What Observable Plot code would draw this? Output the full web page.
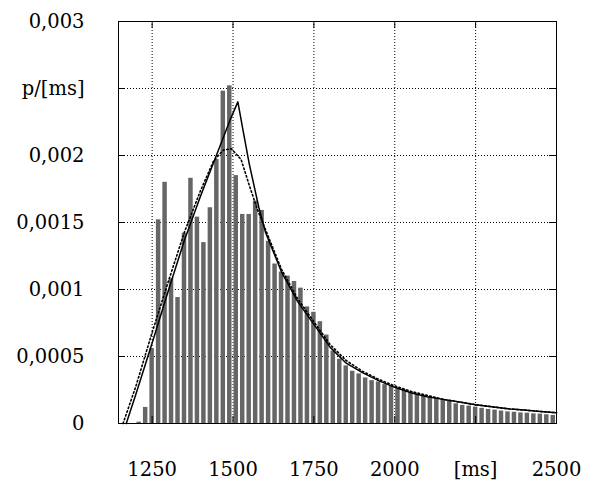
<!DOCTYPE html>
<html><head><meta charset="utf-8">
<script src="https://cdn.jsdelivr.net/npm/d3@7"></script>
<script src="https://cdn.jsdelivr.net/npm/@observablehq/plot@0.6"></script>
<style>
body{margin:0;background:#fff}
svg text, svg tspan { font-family: "DejaVu Serif", serif !important; }
</style>
</head><body><div id="chart"></div>
<script>
const binWidth = 20;
const binCenters = [1210,1230,1250,1270,1290,1310,1330,1350,1370,1390,1410,1430,1450,1470,1490,1510,1530,1550,1570,1590,1610,1630,1650,1670,1690,1710,1730,1750,1770,1790,1810,1830,1850,1870,1890,1910,1930,1950,1970,1990,2010,2030,2050,2070,2090,2110,2130,2150,2170,2190,2210,2230,2250,2270,2290,2310,2330,2350,2370,2390,2410,2430,2450,2470,2490];
const binValues = [0.00001,0.00012,0.00056,0.00152,0.00180,0.00108,0.00094,0.00142,0.00183,0.00154,0.00135,0.00161,0.00197,0.00248,0.00252,0.00185,0.00156,0.00156,0.00166,0.00159,0.00136,0.00119,0.00113,0.00110,0.00106,0.00101,0.00087,0.00083,0.00076,0.00066,0.00054,0.00048,0.00043,0.00039,0.00037,0.00034,0.00032,0.00031,0.00029,0.00028,0.00026,0.00025,0.00023,0.00022,0.00021,0.00020,0.00019,0.00018,0.000168,0.000147,0.000135,0.00013,0.000122,0.000113,0.000105,0.0001,0.000093,0.000087,0.000084,0.000079,0.000077,0.000072,0.00007,0.000065,0.00006];

const solidX = [1170,1200,1250,1300,1350,1400,1450,1490,1515,1530,1550,1580,1600,1650,1700,1750,1800,1850,1900,1950,2000,2050,2100,2150,2200,2250,2300,2350,2400,2450,2500];
const solidY = [0,0.00022,0.0006,0.00099,0.00137,0.0017,0.00201,0.00226,0.0024,0.0022,0.00194,0.00161,0.00143,0.00113,0.00091,0.00074,0.00057,0.00045,0.00038,0.00032,0.00027,0.00023,0.0002,0.00018,0.00016,0.00014,0.000125,0.00011,0.0001,0.00009,0.00008];

const dottedX = [1160,1200,1250,1300,1350,1400,1440,1470,1495,1525,1550,1575,1600,1650,1700,1750,1800,1850,1900,1950,2000,2050,2100,2150,2200,2250,2300,2350,2400,2450,2500];
const dottedY = [0,0.00028,0.00068,0.00106,0.00143,0.00174,0.00196,0.00204,0.00205,0.00197,0.00178,0.0016,0.00145,0.00115,0.00093,0.00076,0.00059,0.00047,0.00039,0.00033,0.00028,0.00024,0.00021,0.00018,0.00016,0.00014,0.000125,0.00011,0.0001,0.00009,0.00008];

const xTickValues = [1250,1500,1750,2000,2250,2500];
const xTickLabels = ["1250","1500","1750","2000","[ms]","2500"];
const yTickValues = [0,0.0005,0.001,0.0015,0.002,0.0025,0.003];
const yTickLabels = ["0","0,0005","0,001","0,0015","0,002","p/[ms]","0,003"];
const xGrid = [1250,1500,1750,2000,2250];
const yGrid = [0.0005,0.001,0.0015,0.002,0.0025];
const xDomain = [1146,2500];
const yDomain = [0,0.003];

const W = 589, H = 489, mL = 118, mR = 33, mT = 21, mB = 66;
const fw = W - mL - mR, fh = H - mT - mB, tickLen = 7;

const bars = binCenters.map((c, i) => ({x1: c - binWidth / 2, x2: c + binWidth / 2, y: binValues[i]}));
const solid = solidX.map((x, i) => ({x, y: solidY[i]}));
const dotted = dottedX.map((x, i) => ({x, y: dottedY[i]}));
const xLab = new Map(xTickValues.map((v, i) => [v, xTickLabels[i]]));
const yLab = new Map(yTickValues.map((v, i) => [v, yTickLabels[i]]));

const font = "DejaVu Serif, serif";
const fs = 19.5;
const chart = Plot.plot({
  width: W, height: H,
  marginLeft: mL, marginRight: mR, marginTop: mT, marginBottom: mB,
  style: {fontSize: fs + "px", background: "#fff", color: "#000"},
  x: {domain: xDomain, label: null},
  y: {domain: yDomain, label: null},
  marks: [
    Plot.ruleX(xGrid, {x: d => d, stroke: "#000", strokeWidth: 1, strokeDasharray: "1,2"}),
    Plot.ruleY(yGrid, {y: d => d, stroke: "#000", strokeWidth: 1, strokeDasharray: "1,2"}),
    Plot.rectY(bars, {x1: "x1", x2: "x2", y1: 0, y2: "y", fill: "#666", insetLeft: 1, insetRight: 1}),
    Plot.line(dotted, {x: "x", y: "y", stroke: "#000", strokeWidth: 1.6, strokeDasharray: "1.5,2.5"}),
    Plot.line(solid, {x: "x", y: "y", stroke: "#000", strokeWidth: 1.5}),
    Plot.tickY(yGrid, {y: d => d, stroke: "#000", insetRight: fw - tickLen}),
    Plot.tickY(yGrid, {y: d => d, stroke: "#000", insetLeft: fw - tickLen}),
    Plot.tickX(xGrid, {x: d => d, stroke: "#000", insetTop: fh - tickLen}),
    Plot.tickX(xGrid, {x: d => d, stroke: "#000", insetBottom: fh - tickLen}),
    Plot.frame({stroke: "#000", strokeWidth: 1}),
    Plot.axisX(xTickValues, {anchor: "bottom", tickSize: 0, tickPadding: 39, fontSize: fs, fontFamily: font, label: null, tickFormat: d => xLab.get(d)}),
    Plot.axisY(yTickValues, {anchor: "left", tickSize: 0, tickPadding: 34, fontSize: fs, fontFamily: font, label: null, tickFormat: d => yLab.get(d)})
  ]
});
document.getElementById("chart").appendChild(chart);
</script>
</body></html>
